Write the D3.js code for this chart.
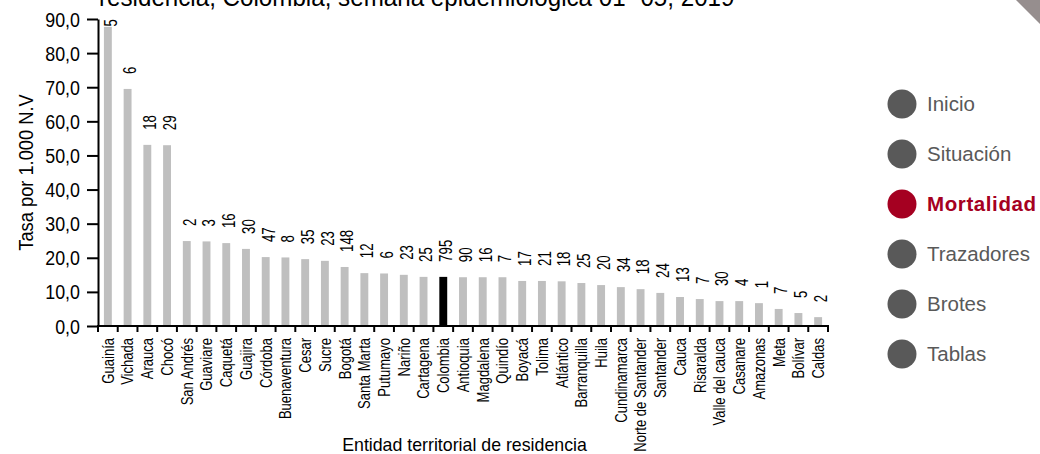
<!DOCTYPE html>
<html>
<head>
<meta charset="utf-8">
<script src="https://cdn.jsdelivr.net/npm/d3@7"></script>
<style>
  html, body { margin: 0; padding: 0; background: #fff; }
  svg { display: block; font-family: "Liberation Sans", Arial, sans-serif; }
</style>
</head>
<body>
<svg id="chart" width="1040" height="454"></svg>
<script>
const categories = ["Guainía","Vichada","Arauca","Chocó","San Andrés","Guaviare","Caquetá","Guajira","Córdoba","Buenaventura","Cesar","Sucre","Bogotá","Santa Marta","Putumayo","Nariño","Cartagena","Colombia","Antioquia","Magdalena","Quindío","Boyacá","Tolima","Atlántico","Barranquilla","Huila","Cundinamarca","Norte de Santander","Santander","Cauca","Risaralda","Valle del cauca","Casanare","Amazonas","Meta","Bolívar","Caldas"];
const rates = [87.7, 69.5, 53.1, 53.0, 24.9, 24.8, 24.3, 22.6, 20.2, 20.1, 19.6, 19.1, 17.3, 15.5, 15.4, 15.0, 14.4, 14.4, 14.3, 14.3, 14.3, 13.2, 13.2, 13.1, 12.6, 12.0, 11.4, 10.8, 9.7, 8.5, 7.9, 7.3, 7.3, 6.7, 5.0, 3.8, 2.6];
const counts = [5, 6, 18, 29, 2, 3, 16, 30, 47, 8, 35, 23, 148, 12, 6, 23, 25, 795, 90, 16, 7, 17, 21, 18, 25, 20, 34, 18, 24, 13, 7, 30, 4, 1, 7, 5, 2];
const yTicks = [0, 10, 20, 30, 40, 50, 60, 70, 80, 90];
const highlightCategory = "Colombia";
const legendItems = ["Inicio", "Situación", "Mortalidad", "Trazadores", "Brotes", "Tablas"];
const activeItem = "Mortalidad";
const titleText = "residencia, Colombia, semana epidemiológica 01- 05, 2019";
const yTitleText = "Tasa por 1.000 N.V";
const xTitleText = "Entidad territorial de residencia";

const FONT = "'Liberation Sans', Arial, sans-serif";
const svg = d3.select("#chart");
const W = 1040;
const plot = { left: 98, right: 828, top: 19, bottom: 326 };

const x = d3.scaleBand().domain(categories).range([plot.left, plot.right]).paddingInner(0.6).paddingOuter(0.3);
const y = d3.scaleLinear().domain([0, 90]).range([plot.bottom, plot.top]);
const fmt = v => d3.format(".1f")(v).replace(".", ",");

// title (cut off at top, as in the source)
svg.append("text")
  .attr("transform", "translate(99,6) scale(0.93,1)")
  .style("font-family", FONT)
  .style("font-size", "26px")
  .attr("fill", "#000")
  .text(titleText);

// corner decoration
svg.append("polygon")
  .attr("points", `${W-24},0 ${W},0 ${W},24`)
  .attr("fill", "#968e8e");

// bars
const data = categories.map((c, i) => ({ c, v: rates[i], n: counts[i] }));
svg.append("g").selectAll("rect").data(data).join("rect")
  .attr("x", d => x(d.c))
  .attr("width", x.bandwidth())
  .attr("y", d => y(d.v))
  .attr("height", d => y(0) - y(d.v))
  .attr("fill", d => d.c === highlightCategory ? "#000000" : "#bfbfbf");

// data labels
const LS = 0.7, LF = 19;
const lg = svg.append("g");
data.forEach(d => {
  const cx = x(d.c) + x.bandwidth() / 2;
  const g = lg.append("g");
  const t = g.append("text")
    .style("font-family", FONT)
    .style("font-size", LF + "px")
    .attr("fill", "#000")
    .attr("x", 0)
    .attr("y", 8.8)
    .text(d.n);
  const len = t.node().getComputedTextLength() * LS;
  const ys = Math.max(y(d.v) - 15, plot.top + len);
  g.attr("transform", `translate(${cx},${ys}) rotate(-90) scale(${LS},1)`);
});

// y axis (ticks via d3 axis, labels placed separately)
const yAxis = d3.axisLeft(y).tickValues(yTicks).tickSize(11).tickSizeOuter(0).tickFormat("");
const ya = svg.append("g").attr("transform", `translate(${plot.left},0)`).call(yAxis);
ya.select(".domain").attr("stroke", "#000").attr("stroke-width", 2);
ya.selectAll(".tick line").attr("stroke", "#000").attr("stroke-width", 2);
ya.selectAll(".tick text").remove();
svg.append("g").selectAll("text").data(yTicks).join("text")
  .attr("transform", d => `translate(80,${y(d) + 7.5}) scale(0.85,1)`)
  .attr("text-anchor", "end")
  .style("font-family", FONT)
  .style("font-size", "21px")
  .attr("fill", "#000")
  .text(fmt);

// x axis line and category boundary ticks
const step = x.step();
const bounds = d3.range(categories.length + 1).map(i => i === categories.length
  ? x(categories[i - 1]) + x.bandwidth() / 2 + step / 2
  : x(categories[i]) + x.bandwidth() / 2 - step / 2);
svg.append("line")
  .attr("x1", plot.left - 1).attr("x2", bounds[bounds.length - 1] + 1)
  .attr("y1", y(0)).attr("y2", y(0))
  .attr("stroke", "#000").attr("stroke-width", 2);
svg.append("g").selectAll("line").data(bounds).join("line")
  .attr("x1", d => d).attr("x2", d => d)
  .attr("y1", y(0)).attr("y2", y(0) + 6)
  .attr("stroke", "#000").attr("stroke-width", 2);

// x tick labels
const XF = 16.5, XS = 0.79;
svg.append("g").selectAll("text").data(categories).join("text")
  .attr("transform", d => `translate(${x(d) + x.bandwidth() / 2 + 5.9},338) rotate(-90) scale(${XS},1)`)
  .attr("text-anchor", "end")
  .style("font-family", FONT)
  .style("font-size", XF + "px")
  .attr("fill", "#000")
  .text(d => d);

// axis titles
svg.append("text")
  .attr("transform", `translate(33,${(plot.top + plot.bottom) / 2}) rotate(-90) scale(0.87,1)`)
  .attr("text-anchor", "middle")
  .style("font-family", FONT)
  .style("font-size", "21px")
  .attr("fill", "#000")
  .text(yTitleText);

svg.append("text")
  .attr("transform", "translate(464.5,451) scale(0.935,1)")
  .attr("text-anchor", "middle")
  .style("font-family", FONT)
  .style("font-size", "19px")
  .attr("fill", "#000")
  .text(xTitleText);

// navigation legend
const legY = d3.scalePoint().domain(legendItems).range([104, 354]);
const leg = svg.append("g");
legendItems.forEach(item => {
  const active = item === activeItem;
  const col = active ? "#a50021" : "#595959";
  leg.append("circle").attr("cx", 902).attr("cy", legY(item)).attr("r", 14.5).attr("fill", col);
  leg.append("text")
    .attr("x", 927).attr("y", legY(item) + 7)
    .style("font-family", FONT)
    .style("font-size", "20.5px")
    .attr("font-weight", active ? "bold" : "normal")
    .attr("letter-spacing", active ? 0.6 : 0)
    .attr("fill", col)
    .text(item);
});
</script>
</body>
</html>
